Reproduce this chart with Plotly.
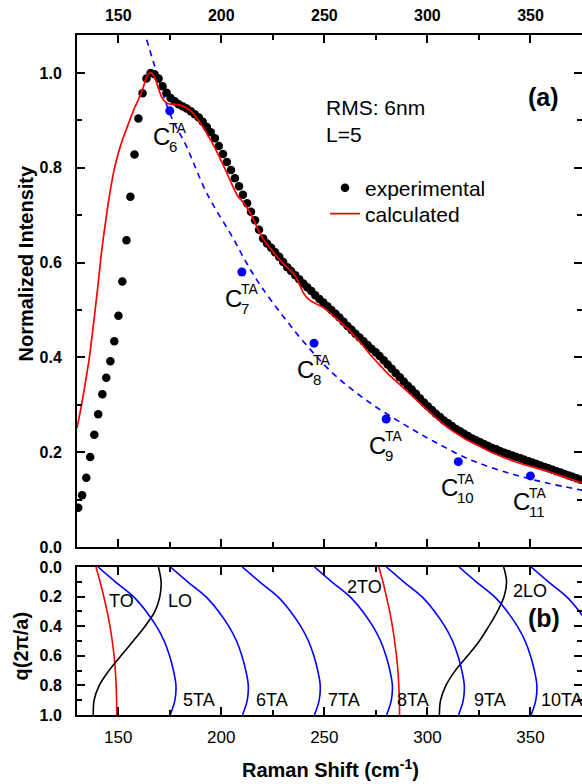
import plotly.graph_objects as go

# ---------------- data: panel (a) ----------------
x_exp = [130.6, 132.5, 134.5, 136.4, 138.4, 140.3, 142.3, 144.2, 146.2, 148.1,
         150.1, 152.0, 154.0, 155.9, 157.9, 159.8, 161.8, 163.7, 165.7, 167.6,
         169.6, 171.5, 173.5, 175.4, 177.4, 179.3, 181.3, 183.2, 185.2, 187.1,
         189.1, 191.0, 193.0, 194.9, 196.9, 198.8, 200.8, 202.7, 204.7, 206.6,
         208.6, 210.5, 212.5, 214.4, 216.4, 218.3, 220.3, 222.2, 224.2, 226.1,
         228.1, 230.0, 232.0, 233.9, 235.9, 237.8, 239.8, 241.7, 243.7, 245.6,
         247.6, 249.5, 251.5, 253.4, 255.4, 257.3, 259.3, 261.2, 263.2, 265.1,
         267.1, 269.0, 271.0, 272.9, 274.9, 276.8, 278.8, 280.7, 282.7, 284.6,
         286.6, 288.5, 290.5, 292.4, 294.4, 296.3, 298.3, 300.2, 302.2, 304.1,
         306.1, 308.0, 310.0, 311.9, 313.9, 315.8, 317.8, 319.7, 321.7, 323.6,
         325.6, 327.5, 329.5, 331.4, 333.4, 335.3, 337.3, 339.2, 341.2, 343.1,
         345.1, 347.0, 349.0, 350.9, 352.9, 354.8, 356.8, 358.7, 360.7, 362.6,
         364.6, 366.5, 368.5, 370.4, 372.4, 374.3]
y_exp = [0.083, 0.109, 0.146, 0.190, 0.237, 0.280, 0.322, 0.357, 0.392, 0.434,
         0.488, 0.560, 0.647, 0.739, 0.828, 0.904, 0.957, 0.988, 1.000, 0.997,
         0.988, 0.972, 0.958, 0.947, 0.940, 0.934, 0.929, 0.925, 0.919, 0.913,
         0.906, 0.897, 0.886, 0.875, 0.862, 0.846, 0.829, 0.812, 0.795, 0.778,
         0.761, 0.743, 0.725, 0.707, 0.689, 0.669, 0.651, 0.640, 0.631, 0.622,
         0.612, 0.601, 0.590, 0.582, 0.573, 0.565, 0.556, 0.548, 0.540, 0.531,
         0.523, 0.516, 0.508, 0.500, 0.492, 0.484, 0.475, 0.466, 0.458, 0.450,
         0.442, 0.434, 0.426, 0.418, 0.411, 0.403, 0.394, 0.385, 0.376, 0.367,
         0.358, 0.349, 0.340, 0.332, 0.323, 0.314, 0.305, 0.297, 0.289, 0.281,
         0.274, 0.267, 0.261, 0.255, 0.249, 0.244, 0.239, 0.234, 0.229, 0.225,
         0.221, 0.217, 0.213, 0.209, 0.206, 0.202, 0.199, 0.196, 0.193, 0.190,
         0.187, 0.184, 0.181, 0.178, 0.175, 0.172, 0.169, 0.166, 0.163, 0.160,
         0.157, 0.154, 0.151, 0.148, 0.145, 0.142]

x_calc = [130, 132, 134, 136, 138, 140, 142, 144, 146, 148, 150, 152, 154, 156,
          158, 160, 162, 163.5, 165, 166, 167, 168.2, 169.5, 171, 172.5, 174.3,
          177, 180, 183, 185.7, 188, 190.5, 193.5, 196.2, 198.5, 201, 203.5,
          205.9, 208, 210.5, 213, 215.5, 217.5, 220, 222.5, 225.5, 228.5, 232,
          235, 236.8, 238.3, 240, 242, 244.7, 249.6, 255, 260.9, 264, 267.4,
          272.2, 276, 280.3, 286, 293.3, 301.4, 311.1, 318, 325.6, 333, 341.8,
          350, 358, 366, 375]
y_calc = [0.251, 0.295, 0.345, 0.400, 0.470, 0.545, 0.625, 0.690, 0.748, 0.795,
          0.830, 0.858, 0.882, 0.905, 0.927, 0.946, 0.968, 0.988, 0.999, 1.000,
          0.996, 0.985, 0.967, 0.950, 0.940, 0.935, 0.934, 0.932, 0.926, 0.918,
          0.905, 0.890, 0.868, 0.848, 0.828, 0.805, 0.781, 0.758, 0.740, 0.728,
          0.712, 0.692, 0.673, 0.652, 0.637, 0.621, 0.605, 0.590, 0.577, 0.565,
          0.550, 0.535, 0.524, 0.516, 0.505, 0.485, 0.462, 0.448, 0.432, 0.406,
          0.388, 0.368, 0.345, 0.316, 0.283, 0.248, 0.229, 0.212, 0.196, 0.181,
          0.170, 0.160, 0.148, 0.135]

c_x = [175, 210, 245, 280, 315, 350]
c_y = [0.92, 0.58, 0.43, 0.27, 0.18, 0.15]
c_n = ["6", "7", "8", "9", "10", "11"]

x_fit = [163.8, 168.7, 175, 183.2, 193, 205.9, 212.4, 218.8, 229.4, 241.5,
         255.2, 272.2, 290, 303, 320.8, 341.8, 358, 375]
y_fit = [1.07, 1.0, 0.915, 0.844, 0.746, 0.650, 0.598, 0.553, 0.490, 0.425,
         0.362, 0.304, 0.255, 0.223, 0.184, 0.153, 0.135, 0.120]

# ---------------- data: panel (b) ----------------
q = [0.0, 0.1, 0.2, 0.3, 0.4, 0.5, 0.6, 0.7, 0.8, 0.9, 1.0]
TO = [139.2, 141.2, 143.0, 144.6, 146.0, 147.1, 148.0, 148.6, 149.0, 149.2, 149.3]
LO = [169.5, 170.8, 170.2, 167.8, 163.0, 157.3, 151.3, 145.5, 140.8, 138.3, 137.9]
TO2 = [276.4, 278.4, 280.1, 281.7, 283.0, 284.1, 285.0, 285.7, 286.1, 286.4, 286.5]
LO2 = [337.0, 338.4, 337.2, 334.0, 329.8, 325.2, 319.5, 313.5, 309.0, 306.4, 305.8]
TA5 = [140.2, 148.6, 157.4, 163.6, 168.5, 172.3, 174.9, 176.8, 178.0, 177.5, 175.2]
TA6 = [175.3, 183.7, 192.5, 198.7, 203.6, 207.4, 210.0, 211.9, 213.1, 212.6, 210.3]
TA7 = [210.2, 218.6, 227.4, 233.6, 238.5, 242.3, 244.9, 246.8, 248.0, 247.5, 245.2]
TA8 = [245.2, 253.6, 262.4, 268.6, 273.5, 277.3, 279.9, 281.8, 283.0, 282.5, 280.2]
TA9 = [280.1, 288.5, 297.3, 303.5, 308.4, 312.2, 314.8, 316.7, 317.9, 317.4, 315.1]
TA10 = [315.3, 323.7, 332.5, 338.7, 343.6, 347.4, 350.0, 351.9, 353.1, 352.6, 350.3]
TA11 = [350.3, 358.7, 367.5, 373.7, 378.6, 382.4, 385.0, 386.9, 388.1, 387.6, 385.3]

FONT = "Liberation Sans, Arial, sans-serif"
BLUE = "#0000ff"
RED = "#ff0000"

fig = go.Figure()

# panel (a)
fig.add_trace(go.Scatter(x=x_fit, y=y_fit, mode="lines",
                         line=dict(color=BLUE, width=1.6, dash="6px,5px", shape="spline"),
                         showlegend=False, xaxis="x", yaxis="y"))
fig.add_trace(go.Scatter(x=x_exp, y=y_exp, mode="markers", name="experimental", legend="legend",
                         marker=dict(color="black", size=8.5), xaxis="x", yaxis="y"))
fig.add_trace(go.Scatter(x=x_calc, y=y_calc, mode="lines", name="calculated", legend="legend2",
                         line=dict(color=RED, width=1.7, shape="spline"), xaxis="x", yaxis="y"))
fig.add_trace(go.Scatter(x=c_x, y=c_y, mode="markers", marker=dict(color=BLUE, size=9),
                         showlegend=False, xaxis="x", yaxis="y"))

# panel (b)
for xs, col in [(TO, RED), (LO, "black"), (TO2, RED), (LO2, "black"),
                (TA5, BLUE), (TA6, BLUE), (TA7, BLUE), (TA8, BLUE), (TA9, BLUE), (TA10, BLUE), (TA11, BLUE)]:
    fig.add_trace(go.Scatter(x=xs, y=q, mode="lines", line=dict(color=col, width=1.6, shape="spline"),
                             showlegend=False, xaxis="x2", yaxis="y2"))

L, R, T, B = 77, 0, 35, 69
W, H = 582, 784
PW, PH = W - L - R, H - T - B


def px(xp):
    return (xp - L) / PW


def py(yp):
    return (H - B - yp) / PH


axis_common = dict(showline=True, linewidth=2, linecolor="black", mirror="ticks", ticks="inside",
                   ticklen=8, tickwidth=1.5, tickcolor="black", showgrid=False, zeroline=False,
                   minor=dict(ticks="inside", ticklen=5, tickwidth=1.5, tickcolor="black", showgrid=False))

legend_common = dict(xanchor="left", yanchor="middle", bgcolor="rgba(0,0,0,0)",
                     font=dict(size=21), itemsizing="trace", borderwidth=0)

fig.update_layout(
    width=W, height=H, margin=dict(l=L, r=R, t=T, b=B, autoexpand=False),
    paper_bgcolor="white", plot_bgcolor="white",
    font=dict(family=FONT, color="black"),
    xaxis=dict(domain=[0, 1], anchor="y", side="top", range=[130, 375], tick0=150, dtick=50,
               tickfont=dict(size=16, weight="bold"), ticklabelstandoff=6, **axis_common),
    yaxis=dict(domain=[py(547), 1], anchor="x", range=[0, 1.08], tick0=0, dtick=0.2, tickformat=".1f",
               tickfont=dict(size=16, weight="bold"), ticklabelstandoff=10, **axis_common),
    xaxis2=dict(domain=[0, 1], anchor="y2", side="bottom", range=[130, 375], tick0=150, dtick=50,
                tickfont=dict(size=17), ticklabelstandoff=6, **axis_common),
    yaxis2=dict(domain=[0, py(567)], anchor="x2", range=[1.0, 0.0], tick0=0, dtick=0.2, tickformat=".1f",
                tickfont=dict(size=16, weight="bold"), ticklabelstandoff=10, **axis_common),
    legend=dict(x=px(325), y=py(188), **legend_common),
    legend2=dict(x=px(325), y=py(214), **legend_common),
)
fig.update_xaxes(minor=dict(dtick=25, tick0=125))
fig.update_yaxes(minor=dict(dtick=0.1, tick0=0))

ann = []
# C labels
for xv, yv, n in zip(c_x, c_y, c_n):
    ann.append(dict(x=xv, y=yv, xref="x", yref="y", text="C", xanchor="right",
                    yshift=-26, xshift=1, font=dict(size=24)))
    ann.append(dict(x=xv, y=yv, xref="x", yref="y", text="TA", xanchor="left",
                    yshift=-17, xshift=-2, font=dict(size=14)))
    ann.append(dict(x=xv, y=yv, xref="x", yref="y", text=n, xanchor="left",
                    yshift=-36, xshift=-2, font=dict(size=15)))

ann += [
    dict(x=px(325), y=py(107.5), text="RMS: 6nm", font=dict(size=21), xanchor="left"),
    dict(x=px(325), y=py(134), text="L=5", font=dict(size=21), xanchor="left"),
    dict(x=px(543.3), y=py(96.7), text="(a)", font=dict(size=25, weight="bold"), xanchor="center"),
    dict(x=px(543.5), y=py(618), text="(b)", font=dict(size=25, weight="bold"), xanchor="center"),
    dict(x=px(25), y=py(263.5), text="Normalized Intensity", font=dict(size=20, weight="bold"),
         textangle=-90, xanchor="center"),
    dict(x=px(20.5), y=py(646), text="q(2π/a)", font=dict(size=20, weight="bold"),
         textangle=-90, xanchor="center"),
    dict(x=px(330), y=py(768), text="Raman Shift (cm<sup>-1</sup>)", font=dict(size=20, weight="bold"),
         xanchor="center"),
    dict(x=px(108.3), y=py(601), text="TO", font=dict(size=18), xanchor="left"),
    dict(x=px(166.7), y=py(601), text="LO", font=dict(size=18), xanchor="left"),
    dict(x=px(346), y=py(587), text="2TO", font=dict(size=18), xanchor="left"),
    dict(x=px(512), y=py(591), text="2LO", font=dict(size=18), xanchor="left"),
    dict(x=px(182), y=py(700), text="5TA", font=dict(size=18), xanchor="left"),
    dict(x=px(255), y=py(700), text="6TA", font=dict(size=18), xanchor="left"),
    dict(x=px(327), y=py(700), text="7TA", font=dict(size=18), xanchor="left"),
    dict(x=px(396), y=py(700), text="8TA", font=dict(size=18), xanchor="left"),
    dict(x=px(472.7), y=py(700), text="9TA", font=dict(size=18), xanchor="left"),
    dict(x=px(540), y=py(700), text="10TA", font=dict(size=18), xanchor="left"),
]
for a in ann:
    a.setdefault("xref", "paper")
    a.setdefault("yref", "paper")
    a.setdefault("showarrow", False)
    a.setdefault("yanchor", "middle")
    a.setdefault("borderpad", 0)
fig.update_layout(annotations=ann)

fig.write_html("out.html", config={"displayModeBar": False},
               post_script="document.body.style.margin='0';document.body.style.padding='0';"
                           "document.documentElement.style.overflow='hidden';"
                           "document.body.style.overflow='hidden';")
